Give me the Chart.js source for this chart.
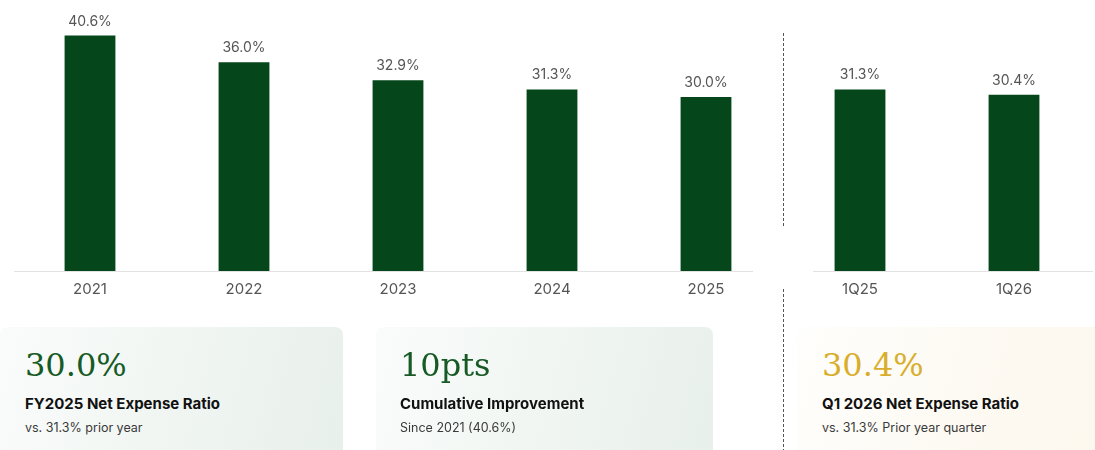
<!DOCTYPE html>
<html>
<head>
<meta charset="utf-8">
<script src="https://cdn.jsdelivr.net/npm/chart.js@4"></script>
<style>
  html, body { margin: 0; padding: 0; background: #fff; }
  body { width: 1095px; height: 450px; position: relative; overflow: hidden; font-family: Inter, "Noto Sans", sans-serif; }
  #myChart { position: absolute; left: 0; top: 0; }
  .card { position: absolute; top: 327px; height: 140px; border-radius: 8px; }
  .card.green { background: linear-gradient(105deg, #fafcfb 0%, #f1f6f3 45%, #e8f0eb 100%); }
  .card.gold { background: linear-gradient(105deg, #fefefc 0%, #fdfaf3 50%, #fcf8ee 100%); }
  .big { position: absolute; left: 25px; top: 22px; font-family: "DejaVu Serif", serif; font-size: 32px; line-height: 1; color: #175a25; }
  .gold .big { color: #d8ae2c; }
  .ttl { position: absolute; left: 25px; top: 69px; font-size: 15px; line-height: 1; font-weight: 700; color: #111; white-space: nowrap; }
  .sub { position: absolute; left: 25px; top: 95px; font-size: 12.5px; line-height: 1; color: #3a3a3a; white-space: nowrap; }
</style>
</head>
<body>
<canvas id="myChart" width="1095" height="450"></canvas>

<div class="card green" style="left:0px; width:343px;">
  <div class="big">30.0%</div>
  <div class="ttl">FY2025 Net Expense Ratio</div>
  <div class="sub">vs. 31.3% prior year</div>
</div>
<div class="card green" style="left:376px; width:337px;">
  <div class="big" style="left:24px;">10pts</div>
  <div class="ttl" style="left:24px;">Cumulative Improvement</div>
  <div class="sub" style="left:24px;">Since 2021 (40.6%)</div>
</div>
<div class="card gold" style="left:797px; width:310px;">
  <div class="big">30.4%</div>
  <div class="ttl">Q1 2026 Net Expense Ratio</div>
  <div class="sub">vs. 31.3% Prior year quarter</div>
</div>

<script>
// yearly ratios then the two first quarters
const labels = ['2021', '2022', '2023', '2024', '2025', '1Q25', '1Q26'];
const ratios = [40.6, 36.0, 32.9, 31.3, 30.0, 31.3, 30.4];
const yearCount = 5;

// value text on top of each bar
const barValues = {
  id: 'barValues',
  afterDatasetsDraw(chart) {
    const c = chart.ctx;
    const meta = chart.getDatasetMeta(0);
    c.save();
    c.font = '14px Inter';
    c.fillStyle = '#555';
    c.textAlign = 'center';
    c.textBaseline = 'alphabetic';
    meta.data.forEach((bar, i) => {
      c.fillText(ratios[i].toFixed(1) + '%', bar.x, bar.y - 10);
    });
    c.restore();
  }
};

// split baseline and the dashed divider between years and quarters
const divider = {
  id: 'divider',
  beforeDatasetsDraw(chart) {
    const c = chart.ctx;
    const x = chart.scales.x;
    const area = chart.chartArea;
    const mid = (x.getPixelForValue(yearCount - 1) + x.getPixelForValue(yearCount)) / 2;
    const y0 = Math.round(chart.scales.y.getPixelForValue(0)) + 0.5;
    c.save();
    c.strokeStyle = '#e2e2e2';
    c.lineWidth = 1;
    c.beginPath();
    c.moveTo(area.left + 1, y0);
    c.lineTo(mid - 30, y0);
    c.moveTo(mid + 30, y0);
    c.lineTo(area.right + 2, y0);
    c.stroke();

    c.strokeStyle = '#555';
    c.setLineDash([3, 2]);
    const xd = Math.round(mid) + 0.5;
    c.beginPath();
    c.moveTo(xd, area.top + 23);
    c.lineTo(xd, area.bottom - 44);
    c.moveTo(xd, area.bottom + 18);
    c.lineTo(xd, chart.height);
    c.stroke();
    c.restore();
  }
};

const ctx = document.getElementById('myChart');
const chart = new Chart(ctx, {
  type: 'bar',
  data: {
    labels: labels,
    datasets: [{
      data: ratios,
      backgroundColor: '#05461a',
      borderWidth: 0,
      categoryPercentage: 1,
      barPercentage: 0.33
    }]
  },
  options: {
    responsive: false,
    animation: false,
    layout: { padding: { left: 13, right: 4, top: 10, bottom: 143 } },
    scales: {
      x: {
        grid: { display: false, drawTicks: false },
        border: { display: false },
        ticks: { color: '#555', font: { family: 'Inter', size: 15 }, padding: 9 }
      },
      y: {
        display: false,
        min: 0,
        max: 45
      }
    },
    plugins: {
      legend: { display: false },
      tooltip: { enabled: false }
    }
  },
  plugins: [barValues, divider]
});
</script>
</body>
</html>
